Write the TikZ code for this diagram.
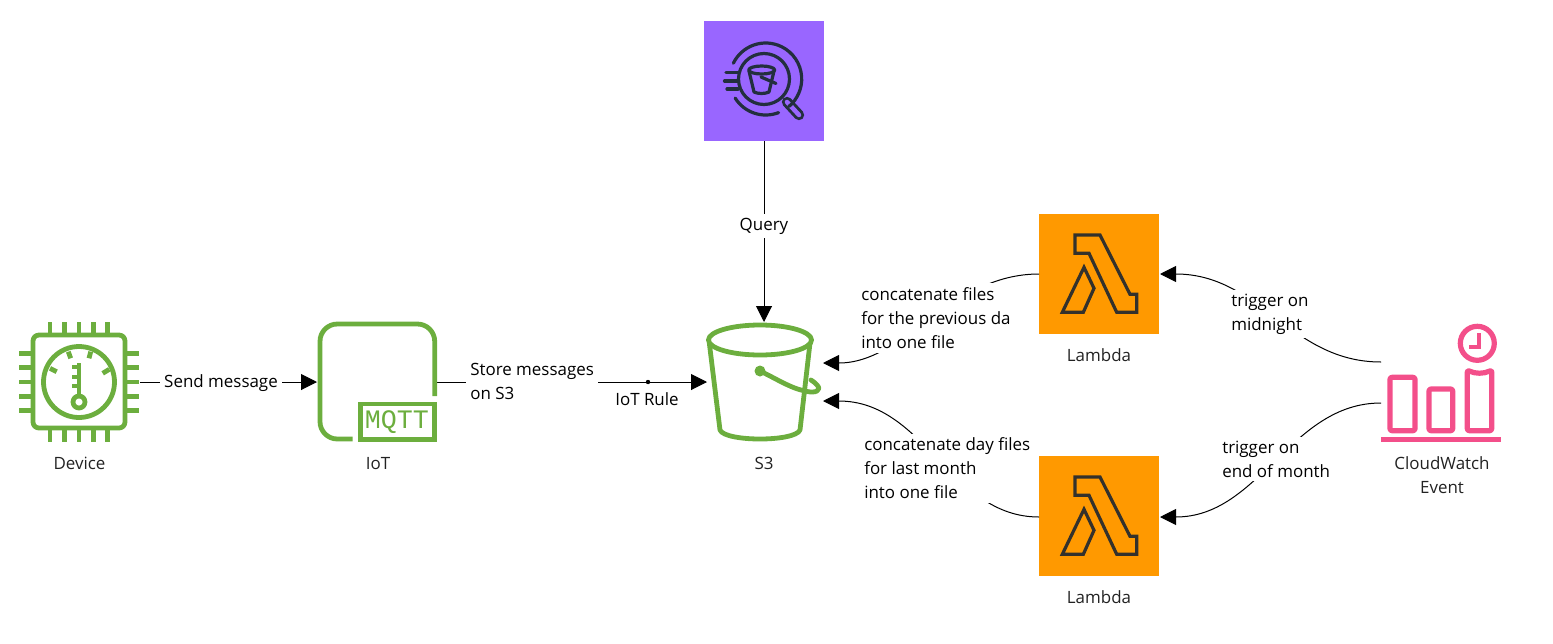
\documentclass[tikz,border=0pt]{standalone}
\usepackage{fontspec}
\setmainfont{Open Sans}
\newfontfamily\mqttfont{Liberation Mono}
\usetikzlibrary{arrows.meta}
\definecolor{igreen}{HTML}{6CAE3E}
\definecolor{ipink}{HTML}{F34F8A}
\definecolor{ipurple}{HTML}{9966FF}
\definecolor{iorange}{HTML}{FF9900}
\definecolor{idark}{HTML}{232F3E}
\definecolor{lgray}{HTML}{33312C}
\definecolor{itext}{HTML}{222222}
\tikzset{
  iconbox/.style={minimum width=#1,minimum height=#1,inner sep=0pt,outer sep=0pt},
  solidbox/.style={iconbox=90pt,fill=#1},
  caption/.style={font=\fontsize{12.7}{18}\selectfont,text=itext,align=center,inner sep=0pt},
  edgelabel/.style={font=\fontsize{12.7}{18}\selectfont,text=black,align=left,fill=white,inner sep=3pt},
  conn/.style={draw=black,line width=0.75pt,-{Triangle[length=12pt,width=12pt]}},
  gline/.style={draw=igreen,line width=3.6pt,line join=round},
  pin/.style={draw=igreen,line width=3.6pt},
  dline/.style={draw=idark,line width=2.4pt,line join=round,line cap=round},
  pline/.style={draw=ipink,line width=3.9pt,line join=round},
  lline/.style={draw=lgray,line width=2.4pt,line join=miter},
  lambdaicon/.pic={
    \draw[lline] (36,21) -- (61,21) -- (91,80.3) -- (97.7,80.3) -- (97.7,98.3) -- (77.7,98.3) -- (50,39.3) -- (36,39.3) -- cycle;
    \draw[lline] (45,53.3) -- (55,74.3) -- (44.3,98.3) -- (23.3,98.3) -- cycle;
  }
}
\begin{document}
\begin{tikzpicture}[x=0.75pt,y=-0.75pt]
\useasboundingbox (0,0) rectangle (1553,643);
% anchor nodes
\node[iconbox=91.5pt] (dev) at (79,382) {};
\node[iconbox=90pt] (iot) at (377,382) {};
\node[minimum width=85.5pt,minimum height=90pt,inner sep=0pt,outer sep=0pt] (s3) at (764,382) {};
\node[solidbox=ipurple] (ath) at (764,81) {};
\node[solidbox=iorange] (la) at (1099,274) {};
\node[solidbox=iorange] (lb) at (1099,516) {};
\node[iconbox=90pt] (cw) at (1441,382) {};
\coordinate (s3a) at (823,363);
\coordinate (s3b) at (823,401);
\coordinate (cwa) at (1381,362);
\coordinate (cwb) at (1381,403);
\coordinate (lbw) at (1039,517);
\coordinate (lbe) at (1160,517);
\coordinate (lae) at (1160,274);
% connectors
\draw[conn] (dev.east) -- (iot.west);
\draw[conn] (iot.east) -- (s3.west);
\draw[conn] (ath.south) -- (s3.north);
\draw[conn] (la.west) .. controls (950,274) and (905,363) .. (s3a);
\draw[conn] (lbw) .. controls (950,517) and (925,401) .. (s3b);
\draw[conn] (cwa) .. controls (1290,362) and (1260,274) .. (lae);
\draw[conn] (cwb) .. controls (1290,403) and (1260,517) .. (lbe);
\fill[black] (648,382) circle (2.2);
% edge labels
\node[edgelabel] (l1) at (221,383) {Send message};
\node[edgelabel,anchor=west] (l2) at (466,381) {Store messages\\on S3};
\node[edgelabel,fill=none,inner sep=0pt] (l3) at (647,399) {IoT Rule};
\node[edgelabel] (l4) at (764,226) {Query};
\node[edgelabel,anchor=west] (l5) at (857,318) {concatenate files\\for the previous da\\into one file};
\node[edgelabel,anchor=west] (l6) at (860,468.5) {concatenate day files\\for last month\\into one file};
\node[edgelabel,anchor=west] (l7) at (1227,314) {trigger on\\midnight};
\node[edgelabel,anchor=west] (l8) at (1218,459) {trigger on\\end of month};
% captions
\node[caption] (c1) at (79.5,463.5) {Device};
\node[caption] (c2) at (378,463.5) {IoT};
\node[caption] (c3) at (764,463.5) {S3};
\node[caption] (c4) at (1099,355.5) {Lambda};
\node[caption] (c5) at (1099,597.5) {Lambda};
\node[caption] (c6) at (1442,475.5) {CloudWatch\\Event};
% device icon
\draw[gline,rounded corners=4.5pt] (33,335) rectangle (125,428);
\foreach \x in {50,64.3,79,93.3,107.7} {
  \draw[pin] (\x,322) -- (\x,335);
  \draw[pin] (\x,428) -- (\x,442);
}
\foreach \y in {353.3,367.7,382,396.3,410.7} {
  \draw[pin] (19,\y) -- (33,\y);
  \draw[pin] (125,\y) -- (139,\y);
}
\draw[gline] (79,382) circle (35.5);
\draw[pin] (50,368.3) -- (56.7,371.7);
\draw[pin] (68.3,351.7) -- (70.7,358.3);
\draw[pin] (90.7,351.7) -- (89,358.3);
\draw[pin] (109.3,369.3) -- (102.7,373.3);
\draw[pin] (79,363) -- (79,396);
\foreach \y in {367,377,386} { \draw[pin] (72,\y) -- (79,\y); }
\draw[gline] (79,402) circle (6);
% IoT icon
\draw[gline,rounded corners=13pt] (352.7,439) -- (320,439) -- (320,324) -- (434.7,324) -- (434.7,396);
\draw[gline,line join=miter] (360.5,404) rectangle (434.5,439.5);
\node[inner sep=0pt,text=igreen,font=\mqttfont\fontsize{20}{20}\selectfont] (mq) at (397,422) {MQTT};
% bucket icon
\draw[gline] (760,340) ellipse [x radius=51.5,y radius=15];
\draw[gline] (709.3,343) -- (720,430) .. controls (725,442) and (795,442) .. (800,430) -- (810,343);
\fill[igreen] (760,371) circle (5.5);
\draw[gline,line cap=round] (760,371) .. controls (775,378) and (790,388) .. (805,391) .. controls (816,394) and (822,390) .. (817,385) .. controls (815,383) and (813,381) .. (811,380);
% athena icon
\draw[dline,line width=7.8pt] (787,102) -- (799,115);
\draw[draw=ipurple,line width=3.4pt,line cap=round] (787,102) -- (799,115);
\draw[dline] (765.7,79) ++(206:36) arc[start angle=206,end angle=410,radius=36];
\draw[dline] (765.7,79) ++(148:36) arc[start angle=148,end angle=69,radius=36];
\draw[dline] (764,79) circle (25.5);
\draw[dline] (726,72.5) -- (738,72.5);
\draw[dline] (724.5,81) -- (738,81);
\draw[dline] (727,89) -- (738,89);
\draw[dline] (761.7,70) ellipse [x radius=13,y radius=4];
\draw[dline] (749,71) -- (754,92) .. controls (758,94) and (765,94) .. (769,92) -- (774,71);
\draw[dline] (761,77) -- (776,83.5);
% lambda icons
\pic at (la.north west) {lambdaicon};
\pic at (lb.north west) {lambdaicon};
% cloudwatch icon
\draw[pline,line cap=butt] (1381,439.3) -- (1501,439.3);
\draw[pline,rounded corners=1.5pt] (1390,377.3) rectangle (1415,430.7);
\draw[pline,rounded corners=1.5pt] (1429,389) rectangle (1452.7,430.7);
\draw[pline,rounded corners=1.5pt] (1467.3,370) .. controls (1475,374) and (1484,374) .. (1491.7,370) -- (1491.7,430.7) -- (1467.3,430.7) -- cycle;
\draw[pline] (1477.3,343.3) circle (17);
\draw[pline,line width=3pt,line join=miter] (1479.3,333.3) -- (1479.3,346.7) -- (1469,346.7);
\end{tikzpicture}
\end{document}
